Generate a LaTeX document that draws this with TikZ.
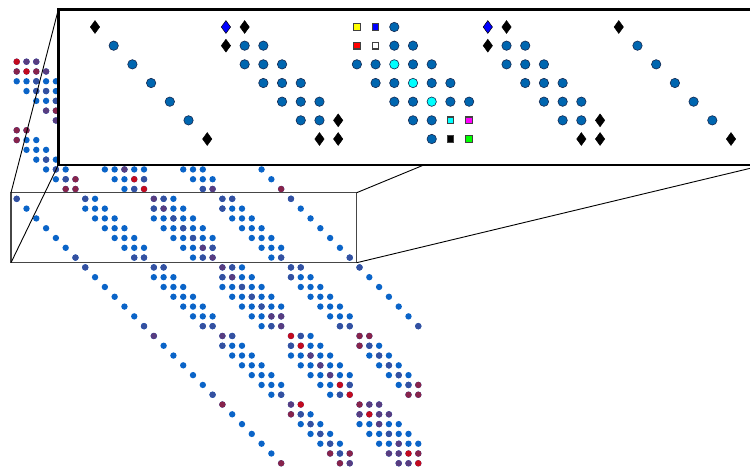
\documentclass[tikz,border=0pt]{standalone}
\usepackage{tikz}
\usetikzlibrary{shapes.geometric}
\definecolor{spyB}{RGB}{10,100,200}
\definecolor{spyS}{RGB}{52,80,160}
\definecolor{spyU}{RGB}{88,60,128}
\definecolor{spyM}{RGB}{135,35,75}
\definecolor{spyR}{RGB}{195,10,30}
\definecolor{markfill}{RGB}{0,102,176}
\definecolor{markedge}{RGB}{20,40,80}
\definecolor{boxgrey}{RGB}{70,70,70}
\definecolor{sqyellow}{RGB}{255,255,0}
\definecolor{sqblue}{RGB}{0,0,255}
\definecolor{sqred}{RGB}{255,0,0}
\definecolor{sqcyan}{RGB}{0,255,255}
\definecolor{sqmagenta}{RGB}{255,0,255}
\definecolor{sqgreen}{RGB}{0,255,0}

\begin{document}
\begin{tikzpicture}[
  x=1pt, y=-1pt,
  dot/.style={fill=spyB},
  spotbox/.style={draw=boxgrey, line width=1.1pt},
  insetbox/.style={draw=black, line width=2.7pt, fill=white},
  zoomline/.style={draw=black, line width=0.9pt},
  mcirc/.style={circle, draw=markedge, fill=markfill, line width=0.6pt,
                inner sep=0pt, minimum size=9.4pt},
  mdiam/.style={diamond, draw=black, fill=black, line width=0.5pt,
                inner sep=0pt, minimum width=9.5pt, minimum height=13pt},
  msq/.style={rectangle, draw=black!75, line width=1.2pt,
              inner sep=0pt, minimum size=6.5pt},
]
\useasboundingbox (0,0) rectangle (750,468);
\clip (0,0) rectangle (750,468);

% --- the whole matrix: 6x6 blocks of 7x7, band 2-|I-J| ---
\begin{scope}[shift={(16.7,61.7)}, x=9.795pt, y=-9.795pt]
\foreach \I in {0,...,5}{
  \foreach \J in {0,...,5}{
    \pgfmathtruncatemacro\w{2-abs(\I-\J)}
    \ifnum\w>-1
      \foreach \i in {0,...,6}{
        \foreach \j in {0,...,6}{
          \pgfmathtruncatemacro\d{abs(\i-\j)}
          \ifnum\d>\w\else
            \fill[dot] (7*\J+\j, 7*\I+\i) circle[radius=3.2pt];
          \fi
        }
      }
    \fi
  }
}
% --- entries of other colour (row/col/colour) ---
\foreach \r/\c/\hue in {0/0/spyR, 0/1/spyU, 0/2/spyU,
  1/0/spyM, 1/1/spyR, 1/2/spyM, 1/3/spyU, 2/2/spyS, 3/2/spyS, 3/3/spyS,
  4/4/spyS, 5/3/spyU, 5/4/spyM, 6/4/spyU, 7/0/spyM, 7/1/spyM, 8/0/spyM,
  10/3/spyS, 11/4/spyS, 11/11/spyU,
  12/5/spyS, 12/6/spyM, 12/12/spyR, 12/13/spyS,
  13/5/spyM, 13/6/spyM, 13/12/spyS, 13/13/spyR, 13/19/spyS, 13/20/spyU, 13/27/spyM,
  14/0/spyS, 14/7/spyS, 14/14/spyU, 14/15/spyS, 14/21/spyS, 14/22/spyS, 14/28/spyS,
  15/14/spyS, 15/15/spyU, 15/21/spyS, 16/16/spyS, 17/17/spyS, 18/18/spyS,
  19/19/spyU, 19/20/spyS,
  20/6/spyS, 20/12/spyS, 20/13/spyS, 20/19/spyS, 20/20/spyU, 20/27/spyS, 20/34/spyS,
  21/7/spyS, 21/14/spyS, 21/15/spyS, 21/21/spyU, 21/22/spyS, 21/28/spyS, 21/29/spyS, 21/35/spyS,
  22/21/spyS, 22/22/spyU, 22/28/spyS, 23/23/spyS, 24/24/spyS, 25/25/spyS,
  26/26/spyU, 26/27/spyU,
  27/13/spyS, 27/19/spyS, 27/20/spyS, 27/26/spyS, 27/27/spyU, 27/33/spyS, 27/34/spyS, 27/41/spyS,
  28/14/spyU, 28/21/spyU, 28/22/spyS, 28/28/spyR, 28/29/spyS, 28/35/spyM, 28/36/spyM,
  29/21/spyS, 29/28/spyS, 29/29/spyR, 29/35/spyM, 29/36/spyS,
  30/30/spyU, 30/37/spyS, 31/31/spyU, 31/38/spyS, 32/32/spyU, 32/39/spyS,
  33/33/spyR, 33/34/spyS, 33/40/spyS, 33/41/spyM,
  34/20/spyS, 34/27/spyS, 34/33/spyS, 34/34/spyR, 34/40/spyM, 34/41/spyM,
  35/21/spyM, 35/28/spyU, 35/29/spyR, 35/35/spyM, 35/36/spyU, 35/37/spyU,
  36/28/spyM, 36/29/spyS, 36/35/spyU, 36/36/spyR, 36/37/spyU, 36/38/spyU,
  37/30/spyS, 37/37/spyU, 38/31/spyS, 38/38/spyS, 39/32/spyS, 39/39/spyU,
  40/32/spyM, 40/33/spyS, 40/34/spyM, 40/38/spyU, 40/39/spyU, 40/40/spyR, 40/41/spyM,
  41/27/spyM, 41/33/spyM, 41/34/spyU, 41/39/spyU, 41/40/spyU, 41/41/spyR}
  \fill[\hue] (\c,\r) circle[radius=3.2pt];
\end{scope}

% --- magnified region and its frame ---
\node[spotbox, anchor=north west, outer sep=0pt, inner sep=0pt,
      minimum width=345.7pt, minimum height=70pt] (spot) at (11,192.7) {};
\coordinate (insetNW) at (58.3,9.7);
\coordinate (insetSW) at (58.3,165);
\coordinate (insetNE) at (800,9.7);
\coordinate (insetSE) at (764,165);

\draw[zoomline] (spot.north west) -- (insetNW);
\draw[zoomline] (spot.south west) -- (insetSW);
\draw[zoomline] (spot.north east) -- (insetNE);
\draw[zoomline] (spot.south east) -- (insetSE);

\draw[insetbox] (insetNW) rectangle (764,165);

% --- inset: rows 14-20, columns 0-34 ---
\begin{scope}[shift={(95,27)}, x=18.706pt, y=-18.67pt]
% diagonal blocks
\foreach \b in {0,28}{
  \node[mdiam] (m-0-\b) at (\b,0) {};
  \foreach \k in {1,...,5}
    \node[mcirc] (m-\k-\b) at (\b+\k,\k) {};
  \node[mdiam] (m-6-\b) at (\b+6,6) {};
}
% tridiagonal blocks
\foreach \b in {7,21}{
  \node[mdiam, fill=sqblue] (t-0-0-\b) at (\b,0) {};
  \node[mdiam] (t-0-1-\b) at (\b+1,0) {};
  \node[mdiam] (t-1-0-\b) at (\b,1) {};
  \foreach \r/\c in {1/1,1/2,2/1,2/2,2/3,3/2,3/3,3/4,4/3,4/4,4/5,5/4,5/5}
    \node[mcirc] (t-\r-\c-\b) at (\b+\c,\r) {};
  \node[mdiam] (t-5-6-\b) at (\b+6,5) {};
  \node[mdiam] (t-6-5-\b) at (\b+5,6) {};
  \node[mdiam] (t-6-6-\b) at (\b+6,6) {};
}
% pentadiagonal block
\foreach \r/\c in {0/2,1/2,1/3,2/0,2/1,2/3,2/4,3/1,3/2,3/4,3/5,4/2,4/3,4/5,4/6,5/3,5/4,6/4}
  \node[mcirc] (p-\r-\c) at (14+\c,\r) {};
\foreach \k in {2,3,4}
  \node[mcirc, fill=sqcyan] (p-\k-\k) at (14+\k,\k) {};
\foreach \r/\c/\hue in {0/0/sqyellow, 0/1/sqblue, 1/0/sqred, 1/1/white,
                        5/5/sqcyan, 5/6/sqmagenta, 6/5/black, 6/6/sqgreen}
  \node[msq, fill=\hue] (p-\r-\c) at (14+\c,\r) {};
\end{scope}

\end{tikzpicture}
\end{document}
